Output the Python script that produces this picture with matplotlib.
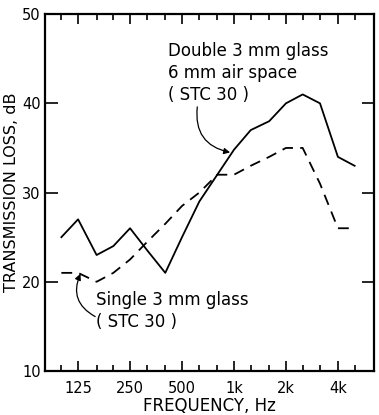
#------------------------------------------------------------------
# Transmission loss of single and double glazing (1/3-octave bands).
#
import matplotlib
matplotlib.use( 'Agg' )
from matplotlib import pyplot as plt
from matplotlib.ticker import FixedLocator, NullFormatter

#------------------------------------------------------------------
# Data.
#
freqs = [ 100, 125, 160, 200, 250, 315, 400, 500, 630, 800,
          1000, 1250, 1600, 2000, 2500, 3150, 4000, 5000 ]
double_tl = [ 25, 27, 23, 24, 26, 23.5, 21, 25, 29, 32,
              34.8, 37, 38, 40, 41, 40, 34, 33 ]
single_tl = [ 21, 21, 20, 21, 22.5, 24.5, 26.5, 28.5, 30, 32,
              32, 33, 34, 35, 35, 31, 26, 26 ]

major_freqs = [ 125, 250, 500, 1000, 2000, 4000 ]
major_labels = [ '125', '250', '500', '1k', '2k', '4k' ]
y_ticks = [ 10, 20, 30, 40, 50 ]

#------------------------------------------------------------------
# Figure.
#
plt.rcParams[ 'font.family' ] = [ 'DejaVu Sans' ]
fig = plt.figure( figsize = ( 3.79, 4.15 ), dpi = 100 )
ax = fig.add_axes( [ 0.119, 0.106, 0.868, 0.860 ] )

ax.plot( freqs, double_tl, color = 'black', linewidth = 1.3 )
ax.plot( freqs, single_tl, color = 'black', linewidth = 1.3,
         dashes = ( 6, 4 ) )

ax.set_xscale( 'log', base = 2 )
ax.set_xlim( 80.5, 6480 )
ax.set_ylim( 10, 50 )

minor_freqs = [ f for f in freqs if f not in major_freqs ]
ax.xaxis.set_major_locator( FixedLocator( major_freqs ) )
ax.xaxis.set_minor_locator( FixedLocator( minor_freqs ) )
ax.set_xticklabels( major_labels )
ax.xaxis.set_minor_formatter( NullFormatter() )
ax.set_yticks( y_ticks )

ax.tick_params( axis = 'x', which = 'major', direction = 'in', top = True,
                length = 7, width = 1.2, labelsize = 10.5, pad = 7 )
ax.tick_params( axis = 'x', which = 'minor', direction = 'in', top = True,
                length = 4, width = 1.2 )
ax.tick_params( axis = 'y', which = 'major', direction = 'in', right = True,
                length = 9, width = 1.2, labelsize = 10.5, pad = 3 )
ax.tick_params( axis = 'y', which = 'minor', left = False, right = False )

for sp in ax.spines.values():
    sp.set_linewidth( 1.6 )

ax.set_xlabel( 'FREQUENCY, Hz', fontsize = 12, labelpad = 1 )
ax.set_ylabel( 'TRANSMISSION LOSS, dB', fontsize = 11.5, labelpad = 2 )

#------------------------------------------------------------------
# Annotations.
#
ax.text( 0.374, 0.922, 'Double 3 mm glass\n6 mm air space\n( STC 30 )',
         transform = ax.transAxes, fontsize = 12, va = 'top', ha = 'left',
         linespacing = 1.3 )
ax.annotate( '', xy = ( 950, 34.5 ), xytext = ( 613, 39.6 ),
             arrowprops = dict( arrowstyle = '-|>', color = 'black',
                                linewidth = 0.9, shrinkA = 0, shrinkB = 0,
                                mutation_scale = 9,
                                connectionstyle = 'arc3,rad=0.45' ) )

ax.text( 0.155, 0.225, 'Single 3 mm glass\n( STC 30 )',
         transform = ax.transAxes, fontsize = 12, va = 'top', ha = 'left',
         linespacing = 1.3 )
ax.annotate( '', xy = ( 129, 20.9 ), xytext = ( 157, 16.1 ),
             arrowprops = dict( arrowstyle = '-|>', color = 'black',
                                linewidth = 0.9, shrinkA = 0, shrinkB = 0,
                                mutation_scale = 9,
                                connectionstyle = 'arc3,rad=-0.45' ) )

fig.savefig( 'out.png', dpi = 100 )
